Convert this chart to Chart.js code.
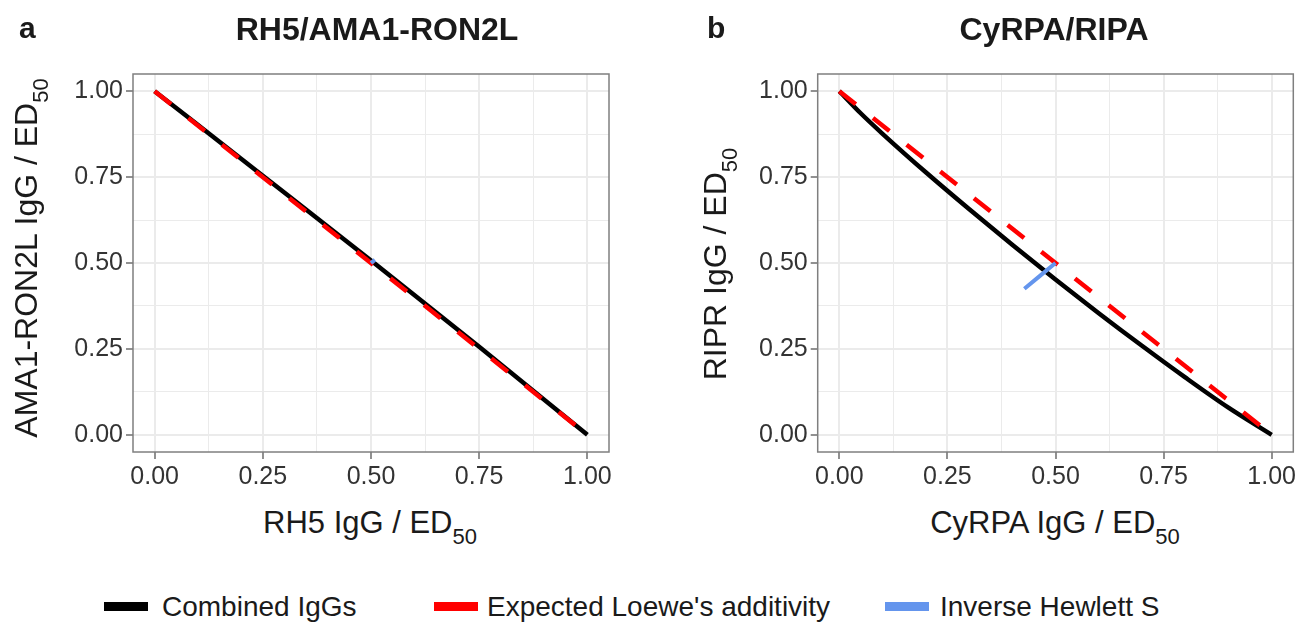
<!DOCTYPE html>
<html>
<head>
<meta charset="utf-8">
<script src="https://cdn.jsdelivr.net/npm/chart.js@4.4.0/dist/chart.umd.min.js"></script>
<style>
  body { margin: 0; width: 1312px; height: 625px; background: #fff; position: relative; overflow: hidden;
         font-family: 'Liberation Sans', Arial, sans-serif; color: #1a1a1a; }
  canvas { position: absolute; top: 0; }
  .txt { position: absolute; white-space: nowrap; }
  .tag { font-size: 30px; line-height: 30px; font-weight: bold; }
  .title { font-size: 32px; line-height: 30px; font-weight: bold; width: 600px; text-align: center; }
  .xlab { font-size: 31px; line-height: 30px; width: 600px; text-align: center; }
  .ylab { font-size: 32px; line-height: 40px; width: 500px; height: 40px; text-align: center; transform: rotate(-90deg); }
  .sub { font-size: 22px; position: relative; top: 11px; }
  .key { position: absolute; width: 44px; height: 9px; top: 602px; }
  .ktxt { font-size: 28px; line-height: 26px; top: 594px; }
</style>
</head>
<body>
<canvas id="chartA" width="656" height="500" style="left:0"></canvas>
<canvas id="chartB" width="656" height="500" style="left:656px"></canvas>

<div class="txt tag" style="left:19px;top:13px">a</div>
<div class="txt tag" style="left:707px;top:13px">b</div>
<div class="txt title" style="left:77px;top:14px">RH5/AMA1-RON2L</div>
<div class="txt title" style="left:754px;top:14px">CyRPA/RIPA</div>

<div class="txt xlab" style="left:70px;top:508px">RH5 IgG / ED<span class="sub">50</span></div>
<div class="txt xlab" style="left:755px;top:508px">CyRPA IgG / ED<span class="sub">50</span></div>
<div class="txt ylab" style="left:-224px;top:238px">AMA1-RON2L IgG / ED<span class="sub">50</span></div>
<div class="txt ylab" style="left:465px;top:244px">RIPR IgG / ED<span class="sub">50</span></div>

<div class="key" style="left:104px;background:#000"></div>
<div class="txt ktxt" style="left:162px">Combined IgGs</div>
<div class="key" style="left:434px;background:#ff0000"></div>
<div class="txt ktxt" style="left:487px">Expected Loewe's additivity</div>
<div class="key" style="left:885px;background:#6495ed"></div>
<div class="txt ktxt" style="left:940px">Inverse Hewlett S</div>

<script>
// axis ticks
const majorTicks = [0, 0.25, 0.5, 0.75, 1];
const minorTicks = [0.125, 0.375, 0.625, 0.875];
const tickLabels = ['0.00', '0.25', '0.50', '0.75', '1.00'];

// panel a: RH5 / AMA1-RON2L
const aCombinedX = [0, 0.25, 0.5, 0.75, 1];
const aCombinedY = [1, 0.754, 0.507, 0.256, 0];
const aLoeweX = [0, 1];
const aLoeweY = [1, 0];
const aHewlettX = [0.5, 0.509];
const aHewlettY = [0.5, 0.509];

// panel b: CyRPA / RIPR
const bCombinedX = [0, 0.05, 0.1, 0.2, 0.3, 0.4, 0.5, 0.6, 0.7, 0.8, 0.9, 1];
const bCombinedY = [1, 0.935, 0.876, 0.764, 0.657, 0.553, 0.452, 0.354, 0.259, 0.167, 0.079, 0];
const bLoeweX = [0, 1];
const bLoeweY = [1, 0];
const bHewlettX = [0.5, 0.428];
const bHewlettY = [0.5, 0.425];

const FONT = "'Liberation Sans', Arial, sans-serif";

function isMajor(v) {
    return majorTicks.some(m => Math.abs(m - v) < 1e-9);
}

function makeAxis() {
    const all = majorTicks.concat(minorTicks).sort((p, q) => p - q);
    return {
        type: 'linear',
        min: -0.05,
        max: 1.05,
        afterBuildTicks: scale => { scale.ticks = all.map(v => ({ value: v })); },
        grid: {
            color: '#ebebeb',
            lineWidth: ctx => (ctx.tick && isMajor(ctx.tick.value)) ? 2 : 1,
            tickColor: ctx => (ctx.tick && isMajor(ctx.tick.value)) ? '#555' : 'rgba(0,0,0,0)',
            tickLength: 7,
            tickWidth: 1.3
        },
        border: { display: false },
        ticks: {
            autoSkip: false,
            maxRotation: 0,
            padding: 3,
            color: '#333',
            font: { family: FONT, size: 25 },
            callback: v => {
                const i = majorTicks.findIndex(m => Math.abs(m - v) < 1e-9);
                return i >= 0 ? tickLabels[i] : '';
            }
        }
    };
}

function lineSet(label, xs, ys, color, width, dash, order) {
    return {
        label,
        data: xs.map((x, i) => ({ x, y: ys[i] })),
        borderColor: color,
        backgroundColor: color,
        borderWidth: width,
        borderDash: dash,
        borderCapStyle: 'butt',
        showLine: true,
        pointRadius: 0,
        fill: false,
        order,
        cubicInterpolationMode: 'monotone'
    };
}

// full panel border, like ggplot's theme_bw
const panelBox = {
    id: 'panelBox',
    afterDraw(chart) {
        const { ctx, chartArea: a } = chart;
        ctx.save();
        ctx.strokeStyle = '#7f7f7f';
        ctx.lineWidth = 1.5;
        ctx.strokeRect(a.left, a.top, a.right - a.left, a.bottom - a.top);
        ctx.restore();
    }
};

function makeChart(id, padLeft, padRight, sets) {
    const x = makeAxis();
    x.afterFit = s => { s.height = 40; };
    const y = makeAxis();
    y.afterFit = s => { s.width = 70; };
    return new Chart(document.getElementById(id), {
        type: 'scatter',
        data: { datasets: sets },
        options: {
            responsive: false,
            animation: false,
            events: [],
            layout: { padding: { left: padLeft, right: padRight, top: 74, bottom: 8 } },
            scales: { x, y },
            plugins: { legend: { display: false }, tooltip: { enabled: false } }
        },
        plugins: [panelBox]
    });
}

makeChart('chartA', 63, 47, [
    lineSet('Combined IgGs', aCombinedX, aCombinedY, '#000000', 4.5, [], 3),
    lineSet("Expected Loewe's additivity", aLoeweX, aLoeweY, '#ff0000', 4.5, [21, 22], 2),
    lineSet('Inverse Hewlett S', aHewlettX, aHewlettY, '#6495ed', 4, [], 1)
]);

makeChart('chartB', 91.7, 18.7, [
    lineSet('Combined IgGs', bCombinedX, bCombinedY, '#000000', 4.5, [], 3),
    lineSet("Expected Loewe's additivity", bLoeweX, bLoeweY, '#ff0000', 4.5, [21, 22], 2),
    lineSet('Inverse Hewlett S', bHewlettX, bHewlettY, '#6495ed', 4, [], 1)
]);
</script>
</body>
</html>
